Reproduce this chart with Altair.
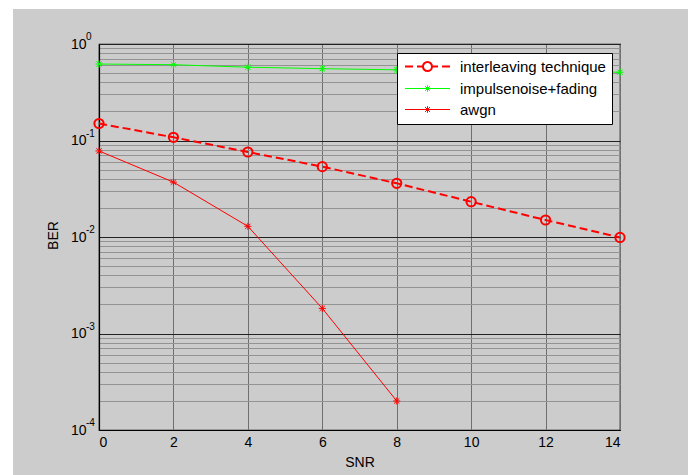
import altair as alt
import pandas as pd

# ---- data ----
snr = [0, 2, 4, 6, 8, 10, 12, 14]
interleaving = [0.15, 0.108, 0.076, 0.0536, 0.036, 0.0232, 0.015, 0.0099]
impulse = [0.62, 0.61, 0.575, 0.555, 0.54, 0.53, 0.52, 0.51]
awgn_snr = [0, 2, 4, 6, 8]
awgn = [0.078, 0.037, 0.0129, 0.00182, 0.0002]

series_names = ["interleaving technique", "impulsenoise+fading", "awgn"]
series_colors = ["#ff0000", "#00ff00", "#ff0000"]
x_ticks = [0, 2, 4, 6, 8, 10, 12, 14]
y_ticks = [m * 10.0 ** e for e in range(-4, 0) for m in range(1, 10)] + [1.0]
decades = [1e-4, 1e-3, 1e-2, 1e-1, 1.0]
decade_exponents = ["-4", "-3", "-2", "-1", "0"]

FONT = "Liberation Sans"
W, H = 521, 386
PAD = {"left": 99, "top": 44, "right": 68, "bottom": 45}

df_int = pd.DataFrame({"snr": snr, "ber": interleaving, "series": series_names[0]})
df_imp = pd.DataFrame({"snr": snr, "ber": impulse, "series": series_names[1]})
df_awgn = pd.DataFrame({"snr": awgn_snr, "ber": awgn, "series": series_names[2]})
df_exp = pd.DataFrame({"ber": decades, "exp": decade_exponents})

E = "round(log(datum.value)/LN10)"
IS_DEC = f"abs(log(datum.value)/LN10 - {E}) < 0.001"

x_enc = alt.X(
    "snr:Q",
    scale=alt.Scale(domain=[0, 14], nice=False, zero=False),
    axis=alt.Axis(
        values=x_ticks, title="SNR", grid=True, gridColor="#6f6f6f", gridWidth=1,
        ticks=False, labelPadding=5, titleX=W / 2, titleY=32,
        titleBaseline="middle", titleAlign="center",
    ),
)
y_scale = alt.Scale(type="log", domain=[1e-4, 1], nice=False)
y_enc = alt.Y(
    "ber:Q",
    scale=y_scale,
    axis=alt.Axis(
        values=y_ticks, title="BER", grid=True,
        gridColor={"condition": {"test": IS_DEC, "value": "#222222"}, "value": "#939393"},
        gridWidth=1, ticks=False, labelExpr=f"{IS_DEC} ? '10' : ''", labelOverlap=False,
        labelPadding=13, titleX=-46, titleY=H / 2 - 2, titleBaseline="middle",
        titleAlign="center",
    ),
)

ASTERISK = "M-1,0H1M0,-1V1M-0.75,-0.75L0.75,0.75M-0.75,0.75L0.75,-0.75"
# legend symbols: unit = 5.5 px, centre at 5.5 px from entry start, line spans 0..45 px
LEG_DASH_CIRCLE = (
    "M-1,0H0.45M1.18,0H2.27M3.91,0H5.0M5.73,0H7.18"
    "M2.27,0A0.82,0.82 0 1,0 3.91,0A0.82,0.82 0 1,0 2.27,0"
)
LEG_LINE_AST = (
    "M-1,0H7.18M2.64,-0.45L3.54,0.45M2.64,0.45L3.54,-0.45M3.09,-0.6V0.6"
)

line_int = alt.Chart(df_int).mark_line(
    color="#ff0000", strokeWidth=2, strokeDash=[8, 4]
).encode(x=x_enc, y=y_enc)
pts_int = alt.Chart(df_int).mark_point(
    shape="circle", filled=False, size=85, strokeWidth=2, color="#ff0000", opacity=1
).encode(x=x_enc, y=y_enc)

line_imp = alt.Chart(df_imp).mark_line(color="#00ff00", strokeWidth=1).encode(x=x_enc, y=y_enc)
pts_imp = alt.Chart(df_imp).mark_point(
    shape=ASTERISK, filled=False, size=50, strokeWidth=1, color="#00ff00", opacity=1
).encode(x=x_enc, y=y_enc)

line_awgn = alt.Chart(df_awgn).mark_line(color="#ff0000", strokeWidth=1).encode(x=x_enc, y=y_enc)
pts_awgn = alt.Chart(df_awgn).mark_point(
    shape=ASTERISK, filled=False, size=50, strokeWidth=1, color="#ff0000", opacity=1
).encode(x=x_enc, y=y_enc)

# superscript exponents of the y tick labels
exp_text = alt.Chart(df_exp).mark_text(
    align="left", baseline="middle", dy=-7, fontSize=10, font=FONT, color="black"
).encode(x=alt.value(-13), y=alt.Y("ber:Q", scale=y_scale), text="exp:N")

legend_df = pd.DataFrame({"series": series_names})
legend_layer = alt.Chart(legend_df).mark_point(filled=False, opacity=1).encode(
    color=alt.Color(
        "series:N",
        scale=alt.Scale(domain=series_names, range=series_colors),
        legend=alt.Legend(
            orient="none", legendX=298, legendY=9, title=None,
            strokeColor="black", fillColor="white", padding=6,
            symbolSize=121, labelFont=FONT, labelFontSize=15, labelColor="black",
            labelOffset=42, rowPadding=5,
        ),
    ),
    shape=alt.Shape(
        "series:N",
        scale=alt.Scale(domain=series_names, range=[LEG_DASH_CIRCLE, LEG_LINE_AST, LEG_LINE_AST]),
    ),
    strokeWidth=alt.StrokeWidth(
        "series:N",
        scale=alt.Scale(type="ordinal", domain=series_names, range=[2, 1, 1]),
    ),
).transform_filter("false")

# white page edge visible at the left and top of the reference figure
strip_df = pd.DataFrame({"k": [0]})
left_strip = alt.Chart(strip_df).mark_rect(color="white").encode(
    x=alt.value(-PAD["left"]), x2=alt.value(-86), y=alt.value(-PAD["top"]), y2=alt.value(H + PAD["bottom"])
)
top_strip = alt.Chart(strip_df).mark_rect(color="white").encode(
    x=alt.value(-PAD["left"]), x2=alt.value(W + PAD["right"]), y=alt.value(-PAD["top"]), y2=alt.value(-35)
)

chart = alt.layer(
    left_strip, top_strip,
    line_imp, pts_imp, line_awgn, pts_awgn, line_int, pts_int, exp_text, legend_layer,
).properties(
    width=W, height=H,
    autosize=alt.AutoSizeParams(type="none"),
    padding=PAD,
    background="#cccccc",
).configure_view(
    fill="white", stroke="black", strokeWidth=1.2,
).configure_axis(
    labelFont=FONT, labelFontSize=14, labelColor="black",
    titleFont=FONT, titleFontSize=14, titleFontWeight="normal", titleColor="black",
    domainColor="black", domainWidth=1.2,
)

chart.save("out.html", embed_options={"renderer": "svg", "actions": False})
